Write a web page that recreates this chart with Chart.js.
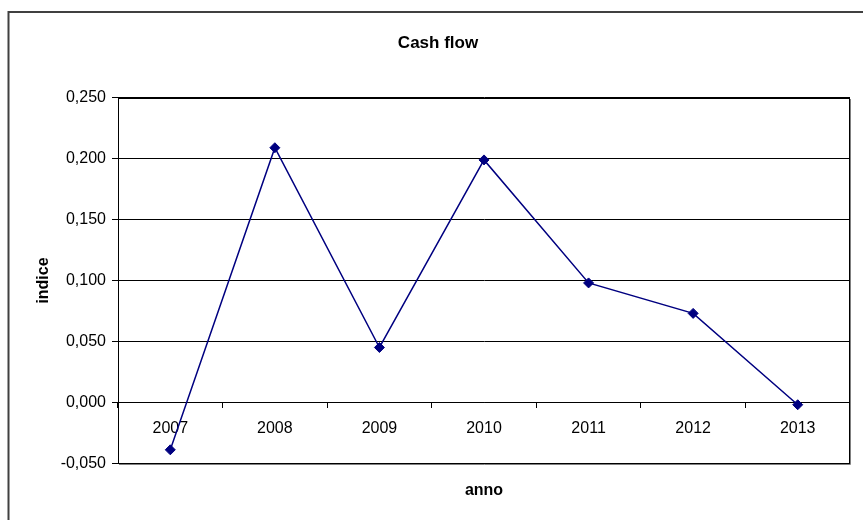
<!DOCTYPE html>
<html>
<head>
<meta charset="utf-8">
<script src="https://cdn.jsdelivr.net/npm/chart.js@4/dist/chart.umd.min.js"></script>
<style>
  html, body { margin: 0; padding: 0; background: #ffffff; }
  #wrap { width: 863px; height: 520px; position: relative; }
</style>
</head>
<body>
<div id="wrap"><canvas id="c" width="863" height="520"></canvas></div>
<script>
const categories = ['2007', '2008', '2009', '2010', '2011', '2012', '2013'];
const cashFlow = [-0.039, 0.209, 0.045, 0.199, 0.098, 0.073, -0.002];
const yMin = -0.05;
const yMax = 0.25;
const yStep = 0.05;
const chartTitle = 'Cash flow';
const xTitle = 'anno';
const yTitle = 'indice';

const FONT = "'Liberation Sans', Arial, Helvetica, sans-serif";

const framePlugin = {
  id: 'frame',
  beforeDraw(chart) {
    const ctx = chart.ctx;
    ctx.save();
    ctx.fillStyle = '#ffffff';
    ctx.fillRect(0, 0, chart.width, chart.height);
    ctx.strokeStyle = '#404040';
    ctx.lineWidth = 2;
    ctx.strokeRect(8.5, 12, chart.width + 20, chart.height + 20);
    ctx.restore();
  },
  beforeDatasetsDraw(chart) {
    const a = chart.chartArea;
    const ctx = chart.ctx;
    ctx.save();
    ctx.strokeStyle = '#000000';
    ctx.lineWidth = 1;
    ctx.strokeRect(Math.round(a.left) + 0.5, Math.round(a.top) + 0.5,
                   Math.round(a.right - a.left) - 1, Math.round(a.bottom - a.top));
    ctx.strokeStyle = '#808080';
    ctx.beginPath();
    ctx.moveTo(Math.round(a.right) + 0.5, Math.round(a.top) + 1);
    ctx.lineTo(Math.round(a.right) + 0.5, Math.round(a.bottom) + 1.5);
    ctx.lineTo(Math.round(a.left) + 1, Math.round(a.bottom) + 1.5);
    ctx.stroke();
    ctx.restore();
  }
};

new Chart(document.getElementById('c'), {
  type: 'line',
  data: {
    labels: categories,
    datasets: [{
      label: 'Cash flow',
      data: cashFlow,
      borderColor: '#000080',
      backgroundColor: '#000080',
      borderWidth: 1.5,
      pointStyle: 'rectRot',
      pointRadius: 5,
      pointBorderWidth: 1,
      pointBackgroundColor: '#000080',
      pointBorderColor: '#000080',
      tension: 0,
      fill: false,
      xAxisID: 'x',
      yAxisID: 'y'
    }]
  },
  options: {
    responsive: false,
    animation: false,
    devicePixelRatio: 1,
    layout: { padding: { top: 0, left: 26, right: 13, bottom: 0 } },
    plugins: {
      legend: { display: false },
      tooltip: { enabled: false },
      title: {
        display: true,
        text: chartTitle,
        color: '#000000',
        font: { family: FONT, size: 17, weight: 'bold', lineHeight: 1.2 },
        padding: { top: 33, bottom: 44.4 }
      }
    },
    scales: {
      x: {
        type: 'category',
        position: { y: 0 },
        offset: true,
        grid: {
          display: true,
          offset: true,
          drawOnChartArea: false,
          drawTicks: true,
          tickLength: 5,
          color: '#000000',
          lineWidth: 1
        },
        border: { display: true, color: '#000000', width: 1 },
        ticks: {
          color: '#000000',
          font: { family: FONT, size: 16 },
          padding: 12,
          maxRotation: 0,
          autoSkip: false
        }
      },
      x2: {
        type: 'category',
        position: 'bottom',
        labels: categories,
        offset: true,
        grid: { display: false, drawTicks: false },
        border: { display: false },
        ticks: { display: false },
        title: {
          display: true,
          text: xTitle,
          color: '#000000',
          font: { family: FONT, size: 16, weight: 'bold', lineHeight: 1.2 },
          padding: { top: 17.3, bottom: 20.3 }
        }
      },
      y: {
        type: 'linear',
        position: 'left',
        min: yMin,
        max: yMax,
        afterFit(scale) { scale.width = 92; },
        grid: {
          color: '#000000',
          lineWidth: 1,
          drawTicks: true,
          tickLength: 6
        },
        border: { display: true, color: '#000000', width: 1 },
        ticks: {
          stepSize: yStep,
          color: '#000000',
          font: { family: FONT, size: 16 },
          padding: 6,
          callback: (v) => {
            const n = Math.abs(Number(v)) < 1e-9 ? 0 : Number(v);
            return n.toFixed(3).replace('.', ',');
          }
        },
        title: {
          display: true,
          text: yTitle,
          color: '#000000',
          font: { family: FONT, size: 16, weight: 'bold', lineHeight: 1.2 },
          padding: { top: 7.6, bottom: 0 }
        }
      }
    }
  },
  plugins: [framePlugin]
});
</script>
</body>
</html>
